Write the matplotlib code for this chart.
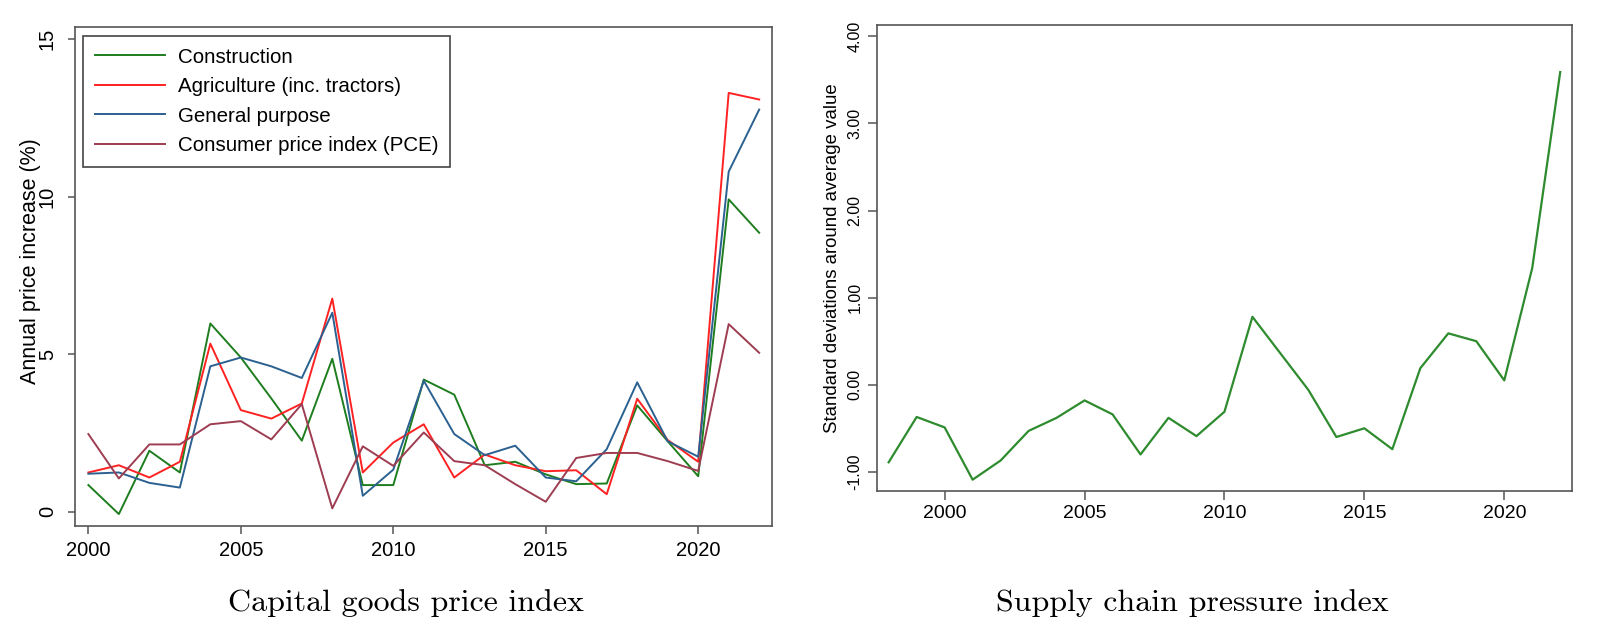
import numpy as np
import matplotlib
matplotlib.use("Agg")
import matplotlib.pyplot as plt
from matplotlib.font_manager import FontProperties

# capital goods price index, annual % change
years_left = list(range(2000, 2023))
construction = [0.85, -0.07, 1.94, 1.25, 5.98, 4.90, 3.60, 2.26, 4.86, 0.85, 0.85, 4.20,
                3.72, 1.48, 1.59, 1.19, 0.88, 0.90, 3.38, 2.24, 1.13, 9.92, 8.86]
agriculture = [1.25, 1.48, 1.09, 1.59, 5.34, 3.23, 2.96, 3.44, 6.77, 1.25, 2.20, 2.78,
               1.09, 1.82, 1.48, 1.29, 1.32, 0.56, 3.59, 2.28, 1.59, 13.30, 13.09]
general_purpose = [1.21, 1.25, 0.92, 0.77, 4.62, 4.90, 4.62, 4.25, 6.32, 0.51, 1.34, 4.16,
                   2.47, 1.80, 2.10, 1.09, 0.97, 1.99, 4.11, 2.24, 1.75, 10.80, 12.77]
cpi_pce = [2.47, 1.06, 2.14, 2.14, 2.78, 2.88, 2.30, 3.42, 0.11, 2.08, 1.46, 2.52,
           1.61, 1.48, 0.88, 0.32, 1.71, 1.87, 1.87, 1.61, 1.30, 5.96, 5.05]

# supply chain pressure index
years_right = list(range(1998, 2023))
gscpi = [-0.89, -0.37, -0.49, -1.09, -0.87, -0.53, -0.38, -0.18, -0.34, -0.80, -0.38, -0.59,
         -0.31, 0.78, 0.36, -0.06, -0.60, -0.50, -0.74, 0.19, 0.59, 0.50, 0.05, 1.34, 3.59]

series = [
    ("Construction", construction, "#1e7d1e"),
    ("Agriculture (inc. tractors)", agriculture, "#ff2222"),
    ("General purpose", general_purpose, "#2b6190"),
    ("Consumer price index (PCE)", cpi_pce, "#9e3d52"),
]

sans = "Liberation Sans"
spine_col = "#555555"

fig = plt.figure(figsize=(16.05, 6.22), dpi=100)
ax1 = fig.add_axes([0.0467, 0.1543, 0.4341, 0.8027])
ax2 = fig.add_axes([0.5462, 0.2106, 0.4334, 0.7492])

# left panel
for name, vals, col in series:
    ax1.plot(years_left, vals, color=col, lw=1.4, label=name)

ax1.set_xlim(1999.56, 2022.41)
ax1.set_ylim(-0.45, 15.4)
ax1.set_xticks([2000, 2005, 2010, 2015, 2020])
ax1.set_yticks([0, 5, 10, 15])
ax1.set_ylabel("Annual price increase (%)", family=sans, size=15.5)
ax1.yaxis.set_label_coords(-0.049, 0.53)

leg = ax1.legend(loc="upper left", bbox_to_anchor=(0.011, 0.982), prop=dict(family=sans, size=14.8),
                 fancybox=False, framealpha=1, edgecolor="#444444", handlelength=3.45,
                 borderpad=0.58, labelspacing=0.51, handletextpad=0.6, borderaxespad=0)
leg.get_frame().set_linewidth(1.2)

# right panel
ax2.plot(years_right, gscpi, color="#2e8b2e", lw=1.6)
ax2.set_xlim(1997.57, 2022.43)
ax2.set_ylim(-1.22, 4.13)
ax2.set_xticks([2000, 2005, 2010, 2015, 2020])
ax2.set_yticks([-1, 0, 1, 2, 3, 4])
ax2.set_yticklabels([f"{v:.2f}" for v in [-1, 0, 1, 2, 3, 4]])
ax2.set_ylabel("Standard deviations around average value", family=sans, size=13.4)
ax2.yaxis.set_label_coords(-0.051, 0.5)

for ax in (ax1, ax2):
    for s in ax.spines.values():
        s.set_color(spine_col)
        s.set_linewidth(1.2)

ax1.tick_params(axis="x", direction="out", length=5.5, width=1.1, color=spine_col, pad=5)
ax1.tick_params(axis="y", direction="out", length=5, width=1.1, color=spine_col, pad=8)
ax2.tick_params(axis="x", direction="out", length=6.5, width=1.1, color=spine_col, pad=3.6)
ax2.tick_params(axis="y", direction="out", length=6.5, width=1.1, color=spine_col, pad=3.6)

for ax, xs, ys in ((ax1, 14.5, 14.5), (ax2, 14, 11.5)):
    for lab in ax.get_xticklabels():
        lab.set_fontproperties(FontProperties(family=sans, size=xs))
    for lab in ax.get_yticklabels():
        lab.set_fontproperties(FontProperties(family=sans, size=ys))
        lab.set_rotation(90)
        lab.set_va("center")

fig.text(406 / 1605, 1 - 611 / 622, "Capital goods price index", family="cmr10", size=23,
         ha="center", va="baseline")
fig.text(1192 / 1605, 1 - 611 / 622, "Supply chain pressure index", family="cmr10", size=23,
         ha="center", va="baseline")

fig.savefig("out.png", dpi=100)
